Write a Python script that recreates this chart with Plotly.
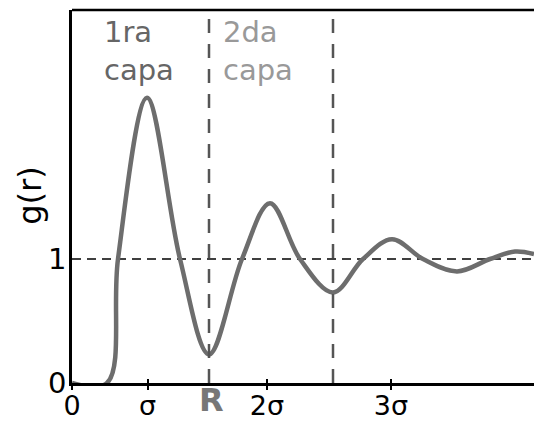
import plotly.graph_objects as go

# Radial distribution function g(r), schematic (r in arbitrary units)
r_vals = [0.00, 0.35, 0.46, 0.75, 1.08, 1.37, 1.70, 1.98, 2.28, 2.61,
          2.91, 3.20, 3.51, 3.85, 4.18, 4.43, 4.62]
g_vals = [0.00, 0.00, 1.00, 2.30, 1.00, 0.23, 1.00, 1.45, 1.00, 0.73,
          1.00, 1.16, 1.00, 0.90, 1.00, 1.06, 1.04]

# Axis ticks
x_tick_vals = [0.0, 0.755, 1.95, 3.19]
x_tick_text = ["0", "σ", "2σ", "3σ"]
y_tick_vals = [0, 1]
y_tick_text = ["0", "1"]

# Shell boundaries (first minimum R, second minimum)
shell_bounds = [1.37, 2.61]
shell_labels = ["1ra<br>capa", "2da<br>capa"]
shell_label_x = [0.30, 1.49]
shell_label_colors = ["#666666", "#999999"]

X_RANGE = [0, 4.62]
Y_RANGE = [0, 3.008]
FONT = "DejaVu Sans"

fig = go.Figure()

fig.add_trace(go.Scatter(
    x=r_vals, y=g_vals, mode="lines",
    line=dict(color="#6d6d6d", width=4.5, shape="spline", smoothing=1.0),
    hoverinfo="skip", showlegend=False,
))

# g = 1 reference line
fig.add_shape(type="line", xref="paper", yref="y", x0=0, x1=1, y0=1, y1=1,
              line=dict(color="black", width=1.5, dash="9px,6px"), layer="below")

# Shell boundary lines
for xb in shell_bounds:
    fig.add_shape(type="line", xref="x", yref="paper", x0=xb, x1=xb, y0=0, y1=1,
                  line=dict(color="#555555", width=2.5, dash="14px,11px"))

# Top frame line
fig.add_shape(type="line", xref="paper", yref="paper", x0=0, x1=1, y0=1, y1=1,
              line=dict(color="black", width=2.5))

# Shell labels
for txt, xl, col in zip(shell_labels, shell_label_x, shell_label_colors):
    fig.add_annotation(x=xl, y=Y_RANGE[1], xref="x", yref="y", text=txt,
                       showarrow=False, xanchor="left", yanchor="top", align="left",
                       yshift=-3,
                       font=dict(family=FONT, size=29, color=col))

# R label under the first shell boundary
fig.add_annotation(x=shell_bounds[0] + 0.02, y=0, xref="x", yref="paper", text="<b>R</b>",
                   showarrow=False, xanchor="center", yanchor="bottom", yshift=-38,
                   font=dict(family=FONT, size=32, color="#777777"))

# y-axis title
fig.add_annotation(x=-42 / 462, y=1.51, xref="paper", yref="y", text="g(r)",
                   showarrow=False, textangle=-90, xanchor="center", yanchor="middle",
                   font=dict(family=FONT, size=32, color="black"))

fig.update_layout(
    width=534, height=423,
    margin=dict(l=72, r=0, t=10, b=40),
    paper_bgcolor="white", plot_bgcolor="white",
    showlegend=False,
    xaxis=dict(range=X_RANGE, showgrid=False, zeroline=False, automargin=False,
               showline=True, linecolor="black", linewidth=2.5,
               tickmode="array", tickvals=x_tick_vals, ticktext=x_tick_text,
               ticks="outside", ticklen=4, tickwidth=2, tickcolor="black",
               ticklabelstandoff=-7,
               tickfont=dict(family=FONT, size=27, color="black")),
    xaxis2=dict(range=X_RANGE, overlaying="x", anchor="y", side="bottom",
                showgrid=False, zeroline=False, showline=False, automargin=False,
                tickmode="array", tickvals=x_tick_vals[1:],
                ticks="inside", ticklen=4, tickwidth=2, tickcolor="black",
                showticklabels=False),
    yaxis=dict(range=Y_RANGE, showgrid=False, zeroline=False, automargin=False,
               showline=True, linecolor="black", linewidth=2.5,
               tickmode="array", tickvals=y_tick_vals, ticktext=y_tick_text,
               ticks="", ticklabelstandoff=-3,
               tickfont=dict(family=FONT, size=29, color="black")),
)

# invisible trace to activate the overlay axis for inner tick marks
fig.add_trace(go.Scatter(x=[X_RANGE[0]], y=[0], xaxis="x2", mode="markers",
                         marker=dict(opacity=0), hoverinfo="skip", showlegend=False))

fig.write_html("out.html")
